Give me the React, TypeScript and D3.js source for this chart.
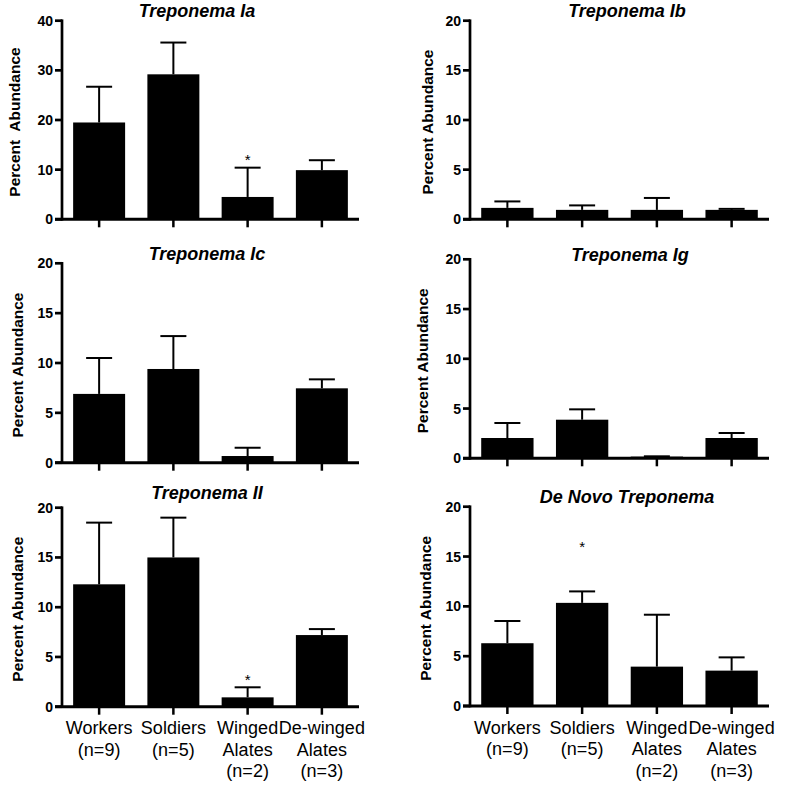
import React from "react";
import * as d3 from "d3";

// ---- Data ----
const categoryLines: string[][] = [
  ["Workers", "(n=9)"],
  ["Soldiers", "(n=5)"],
  ["Winged", "Alates", "(n=2)"],
  ["De-winged", "Alates", "(n=3)"],
];
const categories = ["Workers", "Soldiers", "Winged Alates", "De-winged Alates"];

const panelTitles = [
  "Treponema Ia",
  "Treponema Ib",
  "Treponema Ic",
  "Treponema Ig",
  "Treponema II",
  "De Novo Treponema",
];
const yLabels = [
  "Percent  Abundance",
  "Percent Abundance",
  "Percent Abundance",
  "Percent Abundance",
  "Percent Abundance",
  "Percent Abundance",
];
const yMaxes = [40, 20, 20, 20, 20, 20];
const yTickSteps = [10, 5, 5, 5, 5, 5];

// mean values
const meansIa = [19.5, 29.2, 4.5, 9.9];
const meansIb = [1.15, 0.95, 0.95, 0.95];
const meansIc = [6.9, 9.4, 0.67, 7.46];
const meansIg = [2.04, 3.88, 0.17, 2.04];
const meansII = [12.3, 15.0, 0.94, 7.2];
const meansDeNovo = [6.3, 10.35, 3.95, 3.55];

// upper end of error bars (mean + SE)
const upperIa = [26.7, 35.6, 10.4, 11.9];
const upperIb = [1.8, 1.4, 2.15, 1.05];
const upperIc = [10.5, 12.7, 1.5, 8.36];
const upperIg = [3.55, 4.92, 0.2, 2.54];
const upperII = [18.5, 19.0, 1.95, 7.8];
const upperDeNovo = [8.53, 11.5, 9.16, 4.88];

const allMeans = [meansIa, meansIb, meansIc, meansIg, meansII, meansDeNovo];
const allUppers = [upperIa, upperIb, upperIc, upperIg, upperII, upperDeNovo];

// significance markers: [panel, category index, y value]
const asterisks: [number, number, number][] = [
  [0, 2, 12.7],
  [4, 2, 3.0],
  [5, 1, 16.3],
];

// ---- Layout ----
const W = 787;
const H = 787;
const colX: [number, number][] = [
  [62, 359],
  [470, 769],
];
const panelY: [number, number][] = [
  [219.3, 20.7],
  [219.3, 20.7],
  [462.7, 263.3],
  [458.3, 259.3],
  [706.7, 507.7],
  [706, 506.7],
];
const titleX = [197, 627, 207, 630, 207, 627];
const titleY = [17, 17, 260, 261, 499, 503];
const yLabelX = [14, 427, 17, 422, 17, 425];

const FONT = "'Liberation Sans', Arial, Helvetica, sans-serif";

function Panel({ i }: { i: number }) {
  const col = i % 2;
  const [x0, x1] = colX[col];
  const [yb, yt] = panelY[i];
  const x = d3
    .scaleBand<string>()
    .domain(categories)
    .range([x0, x1])
    .paddingInner(0.3)
    .paddingOuter(0.15);
  const y = d3.scaleLinear().domain([0, yMaxes[i]]).range([yb, yt]);
  const ticks = d3.range(0, yMaxes[i] + 0.001, yTickSteps[i]);
  const means = allMeans[i];
  const uppers = allUppers[i];
  const bw = x.bandwidth();
  const capHalf = 13;
  const isBottom = i >= 4;
  return (
    <g>
      {/* bars */}
      {categories.map((c, k) => (
        <rect
          key={"b" + k}
          x={x(c)!}
          y={y(means[k])}
          width={bw}
          height={y(0) - y(means[k])}
          fill="#000"
        />
      ))}
      {/* error bars */}
      {categories.map((c, k) => {
        const cx = x(c)! + bw / 2;
        return (
          <g key={"e" + k} stroke="#000" strokeWidth={2}>
            <line x1={cx} x2={cx} y1={y(means[k])} y2={y(uppers[k])} />
            <line x1={cx - capHalf} x2={cx + capHalf} y1={y(uppers[k])} y2={y(uppers[k])} />
          </g>
        );
      })}
      {/* y axis */}
      <line x1={x0} x2={x0} y1={yb + 1.3} y2={yt - 1.3} stroke="#000" strokeWidth={2.7} />
      {ticks.map((t) => (
        <g key={"t" + t}>
          <line x1={x0 - 7} x2={x0} y1={y(t)} y2={y(t)} stroke="#000" strokeWidth={2.7} />
          <text
            x={x0 - 9}
            y={y(t)}
            textAnchor="end"
            dominantBaseline="central"
            fontFamily={FONT}
            fontWeight="bold"
            fontSize={14}
          >
            {t}
          </text>
        </g>
      ))}
      {/* x axis */}
      <line x1={x0 - 7} x2={x1} y1={yb} y2={yb} stroke="#000" strokeWidth={2.9} />
      {categories.map((c, k) => {
        const cx = x(c)! + bw / 2;
        return <line key={"xt" + k} x1={cx} x2={cx} y1={yb} y2={yb + 8} stroke="#000" strokeWidth={2.5} />;
      })}
      {/* x labels */}
      {isBottom &&
        categories.map((c, k) => {
          const cx = x(c)! + bw / 2;
          return (
            <text key={"xl" + k} textAnchor="middle" fontFamily={FONT} fontSize={18} fill="#000">
              {categoryLines[k].map((ln, j) => (
                <tspan key={j} x={cx} y={yb + 27.5 + j * 21.5}>
                  {ln}
                </tspan>
              ))}
            </text>
          );
        })}
      {/* title */}
      <text
        x={titleX[i]}
        y={titleY[i]}
        textAnchor="middle"
        fontFamily={FONT}
        fontWeight="bold"
        fontStyle="italic"
        fontSize={18}
      >
        {panelTitles[i]}
      </text>
      {/* y label */}
      <text
        transform={`translate(${yLabelX[i]},${(yb + yt) / 2 + 2}) rotate(-90)`}
        textAnchor="middle"
        dominantBaseline="central"
        fontFamily={FONT}
        fontWeight="bold"
        fontSize={15.5}
        style={{ whiteSpace: "pre" }}
      >
        {yLabels[i]}
      </text>
      {/* asterisks */}
      {asterisks
        .filter((a) => a[0] === i)
        .map((a, k) => {
          const cx = x(categories[a[1]])! + bw / 2;
          return (
            <text
              key={"a" + k}
              x={cx}
              y={y(a[2]) + 8.5}
              textAnchor="middle"
              fontFamily={FONT}
              fontSize={15}
            >
              *
            </text>
          );
        })}
    </g>
  );
}

export default function App() {
  return (
    <svg
      width={W}
      height={H}
      style={{ position: "absolute", left: 0, top: 0, background: "#fff" }}
    >
      <rect width={W} height={H} fill="#fff" />
      {d3.range(6).map((i) => (
        <Panel key={i} i={i} />
      ))}
    </svg>
  );
}
